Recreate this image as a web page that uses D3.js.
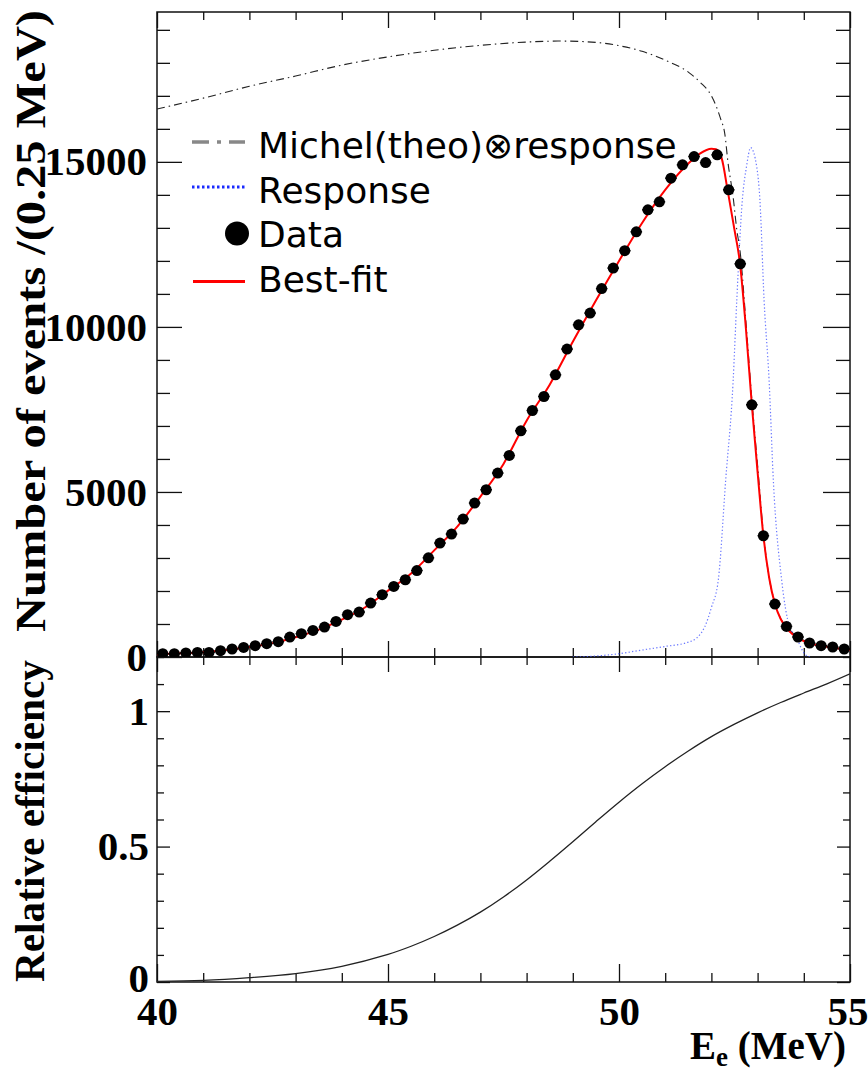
<!DOCTYPE html>
<html>
<head>
<meta charset="utf-8">
<script src="https://cdn.jsdelivr.net/npm/d3@7"></script>
<style>
  html, body { margin: 0; padding: 0; background: #fff; }
  svg { display: block; }
</style>
</head>
<body>
<svg id="chart" width="868" height="1072"></svg>
<script>
// ---------------- DATA ----------------
const binCenters = d3.range(60).map(i => 40.125 + 0.25 * i);
const dataCounts = [
  100, 100, 121, 140, 140, 190, 242, 290, 342, 403,
  463, 605, 706, 806, 908, 1078, 1281, 1362, 1635, 1887,
  2138, 2340, 2620, 3005, 3452, 3725, 4180, 4664, 5067, 5572,
  6105, 6853, 7468, 7892, 8549, 9328, 10064, 10418, 11160, 11781,
  12310, 12880, 13546, 13789, 14507, 14910, 15161, 14979, 15212, 14152,
  11911, 7641, 3673, 1605, 927, 606, 424, 342, 303, 242
];
const fitE = [40.0, 40.5, 41.0, 41.5, 42.0, 42.5, 43.0, 43.5, 44.0, 44.5, 45.0, 45.5, 46.0, 46.5, 47.0, 47.5,
  48.0, 48.5, 49.0, 49.5, 50.0, 50.5, 51.0, 51.5, 51.75, 52.0, 52.1, 52.22, 52.35, 52.5, 52.62, 52.75,
  52.875, 53.0, 53.125, 53.25, 53.375, 53.5, 53.625, 53.75, 53.875, 54.0, 54.25, 54.5, 54.75, 55.0];
const fitY = [85, 110, 145, 210, 300, 420, 600, 830, 1130, 1500, 2010, 2530, 3230, 3950, 4860, 5850,
  7160, 8250, 9550, 10800, 12000, 13150, 14150, 14950, 15250, 15400, 15380, 15120, 14152, 12940, 11911, 9900,
  7641, 5600, 3673, 2400, 1605, 1150, 880, 700, 580, 480, 370, 310, 260, 220];
const michelE = [40.0, 41.0, 42.0, 43.0, 44.0, 45.0, 46.0, 47.0, 48.0, 48.7, 49.5, 50.0, 50.5, 51.0, 51.5,
  51.75, 52.0, 52.1, 52.2, 52.29, 52.36, 52.47, 52.55, 52.62, 52.75, 52.875, 53.0, 53.125, 53.25, 53.375,
  53.5, 53.625, 53.75, 53.875, 54.0, 54.25, 54.5, 54.75, 55.0];
const michelY = [16600, 16930, 17290, 17600, 17930, 18180, 18380, 18530, 18630, 18660, 18620, 18520, 18350, 18080, 17720,
  17420, 17000, 16700, 16300, 15850, 14970, 13940, 12940, 12300, 10100, 7800, 5800, 3750, 2400, 1650,
  1160, 940, 740, 620, 510, 390, 325, 265, 225];
const respE = [49.0, 49.5, 50.0, 50.45, 51.0, 51.5, 51.68, 51.86, 52.0, 52.15, 52.31, 52.47, 52.55, 52.67, 52.76,
  52.85, 52.98, 53.05, 53.14, 53.25, 53.34, 53.52, 53.69, 53.85, 53.95, 54.05, 54.15];
const respY = [0, 30, 100, 200, 320, 450, 575, 927, 1500, 2341, 5370, 8350, 10820, 13849, 14860,
  15430, 14860, 13849, 10820, 8350, 5370, 2341, 927, 575, 250, 50, 0];
const effE = [40, 41, 42, 43, 44, 45, 45.5, 46, 46.5, 47, 47.5, 48, 48.5, 49, 49.5, 50, 50.5, 51, 51.5, 52, 52.5, 53, 53.5, 54, 54.5, 55];
const effY = [0.0025, 0.006, 0.016, 0.031, 0.058, 0.102, 0.132, 0.168, 0.210, 0.258, 0.314, 0.377, 0.446, 0.518, 0.592,
  0.664, 0.732, 0.795, 0.853, 0.906, 0.952, 0.994, 1.032, 1.067, 1.101, 1.138];
const topYTicks = [0, 5000, 10000, 15000];
const botYTicks = [0, 0.5, 1];
const xTicks = [40, 45, 50, 55];
const legendLabels = ["Michel(theo)\u2297response", "Response", "Data", "Best-fit"];

// ---------------- LAYOUT ----------------
const L = 157, R = 850, T = 12, MID = 657, B = 982;
const svg = d3.select("#chart");
svg.append("rect").attr("width", 868).attr("height", 1072).attr("fill", "#fff");

const x = d3.scaleLinear().domain([40, 55]).range([L, R]);
const yTop = d3.scaleLinear().domain([0, 19540]).range([MID, T]);
const yBot = d3.scaleLinear().domain([0, 1.2]).range([B, MID]);

const defs = svg.append("defs");
defs.append("clipPath").attr("id", "clipTop").append("rect")
  .attr("x", L).attr("y", T).attr("width", R - L).attr("height", MID - T);
defs.append("clipPath").attr("id", "clipBot").append("rect")
  .attr("x", L).attr("y", MID).attr("width", R - L).attr("height", B - MID);

const tickFont = "'Liberation Serif', 'Times New Roman', serif";

function styleAxis(g) {
  g.select(".domain").remove();
  g.selectAll(".tick line").attr("stroke", "#111").attr("stroke-width", 1.3);
  g.selectAll(".tick text").attr("fill", "#000")
    .attr("font-family", tickFont).attr("font-weight", "bold").attr("font-size", 41);
}

// Minor tick values
const xMinor = d3.range(40, 55.001, 1).filter(v => v % 5 !== 0);
const topYMinor = d3.range(0, 19541, 1000).filter(v => v % 5000 !== 0);
const botYMinor = d3.range(0, 1.2001, 0.1).map(v => Math.round(v * 10) / 10).filter(v => Math.abs(v * 2 - Math.round(v * 2)) > 1e-6);

// ---- Top panel axes ----
svg.append("g").attr("transform", `translate(${L},0)`)
  .call(d3.axisLeft(yTop).tickValues(topYTicks).tickSize(-25).tickPadding(10).tickFormat(d3.format("d")))
  .call(styleAxis);
svg.append("g").attr("transform", `translate(${L},0)`)
  .call(d3.axisLeft(yTop).tickValues(topYMinor).tickSize(-13).tickFormat(""))
  .call(styleAxis);
svg.append("g").attr("transform", `translate(${R},0)`)
  .call(d3.axisRight(yTop).tickValues(topYTicks.filter(v => v > 0)).tickSize(-27).tickFormat(""))
  .call(styleAxis);
svg.append("g").attr("transform", `translate(${R},0)`)
  .call(d3.axisRight(yTop).tickValues(topYMinor).tickSize(-14).tickFormat(""))
  .call(styleAxis);
svg.append("g").attr("transform", `translate(0,${T})`)
  .call(d3.axisTop(x).tickValues(xTicks).tickSize(-16).tickFormat(""))
  .call(styleAxis);
svg.append("g").attr("transform", `translate(0,${T})`)
  .call(d3.axisTop(x).tickValues(xMinor).tickSize(-8).tickFormat(""))
  .call(styleAxis);
svg.append("g").attr("transform", `translate(0,${MID})`)
  .call(d3.axisBottom(x).tickValues(xTicks).tickSize(-16).tickFormat(""))
  .call(styleAxis);
svg.append("g").attr("transform", `translate(0,${MID})`)
  .call(d3.axisBottom(x).tickValues(xMinor).tickSize(-9).tickFormat(""))
  .call(styleAxis);

// ---- Bottom panel axes ----
const botLeftG = svg.append("g").attr("transform", `translate(${L},0)`)
  .call(d3.axisLeft(yBot).tickValues(botYTicks).tickSize(-13).tickPadding(8).tickFormat(d => d3.format("")(d)))
  .call(styleAxis);
botLeftG.selectAll(".tick text").filter(d => d === 0).attr("dy", "0.24em");
svg.append("g").attr("transform", `translate(${L},0)`)
  .call(d3.axisLeft(yBot).tickValues(botYMinor).tickSize(-7).tickFormat(""))
  .call(styleAxis);
svg.append("g").attr("transform", `translate(${R},0)`)
  .call(d3.axisRight(yBot).tickValues(botYTicks).tickSize(-13).tickFormat(""))
  .call(styleAxis);
svg.append("g").attr("transform", `translate(${R},0)`)
  .call(d3.axisRight(yBot).tickValues(botYMinor).tickSize(-7).tickFormat(""))
  .call(styleAxis);
svg.append("g").attr("transform", `translate(0,${MID})`)
  .call(d3.axisTop(x).tickValues(xTicks).tickSize(-15).tickFormat(""))
  .call(styleAxis);
svg.append("g").attr("transform", `translate(0,${MID})`)
  .call(d3.axisTop(x).tickValues(xMinor).tickSize(-8).tickFormat(""))
  .call(styleAxis);
const xAxisG = svg.append("g").attr("transform", `translate(0,${B})`)
  .call(d3.axisBottom(x).tickValues(xTicks).tickSize(-18).tickPadding(14).tickFormat(d3.format("d")))
  .call(styleAxis);
// keep the last label inside the picture, as in the reference
xAxisG.selectAll(".tick text").filter(d => d === 55).attr("text-anchor", "end").attr("x", 18);
svg.append("g").attr("transform", `translate(0,${B})`)
  .call(d3.axisBottom(x).tickValues(xMinor).tickSize(-9).tickFormat(""))
  .call(styleAxis);

// Frames
svg.append("rect").attr("x", L).attr("y", T).attr("width", R - L).attr("height", MID - T)
  .attr("fill", "none").attr("stroke", "#111").attr("stroke-width", 1.5);
svg.append("rect").attr("x", L).attr("y", MID).attr("width", R - L).attr("height", B - MID)
  .attr("fill", "none").attr("stroke", "#111").attr("stroke-width", 1.5);

// ---- Top panel curves ----
const gTop = svg.append("g").attr("clip-path", "url(#clipTop)");
const lineTop = d3.line().x(d => x(d[0])).y(d => yTop(d[1])).curve(d3.curveMonotoneX);

gTop.append("path").datum(d3.zip(michelE, michelY))
  .attr("d", lineTop).attr("fill", "none").attr("stroke", "#222").attr("stroke-width", 1.1)
  .attr("stroke-dasharray", "8,4,1.5,4");

gTop.append("path").datum(d3.zip(respE, respY))
  .attr("d", lineTop).attr("fill", "none").attr("stroke", "#4455ff").attr("stroke-width", 1.2)
  .attr("stroke-dasharray", "1.3,2.2").attr("opacity", 0.8);

gTop.append("path").datum(d3.zip(fitE, fitY))
  .attr("d", lineTop).attr("fill", "none").attr("stroke", "#ff0000").attr("stroke-width", 2);

const pts = d3.zip(binCenters, dataCounts);
gTop.selectAll("line.err").data(pts).join("line").attr("class", "err")
  .attr("x1", d => x(d[0] - 0.125)).attr("x2", d => x(d[0] + 0.125))
  .attr("y1", d => yTop(d[1])).attr("y2", d => yTop(d[1]))
  .attr("stroke", "#000").attr("stroke-width", 1.5);
gTop.selectAll("circle.pt").data(pts).join("circle").attr("class", "pt")
  .attr("cx", d => x(d[0])).attr("cy", d => yTop(d[1])).attr("r", 5.5).attr("fill", "#000");

// ---- Bottom panel curve ----
const gBot = svg.append("g").attr("clip-path", "url(#clipBot)");
gBot.append("path").datum(d3.zip(effE, effY))
  .attr("d", d3.line().x(d => x(d[0])).y(d => yBot(d[1])).curve(d3.curveCatmullRom))
  .attr("fill", "none").attr("stroke", "#222").attr("stroke-width", 1.3);

// ---- Legend ----
const legFont = "'DejaVu Sans', Verdana, sans-serif";
const legBase = [158, 202.5, 247, 291.5];
svg.append("g").selectAll("text").data(legendLabels).join("text")
  .attr("x", 258).attr("y", (d, i) => legBase[i])
  .attr("font-family", legFont).attr("font-size", 36).attr("fill", "#000")
  .text(d => d);
svg.append("line").attr("x1", 192).attr("x2", 245).attr("y1", 142).attr("y2", 142)
  .attr("stroke", "#888").attr("stroke-width", 3.5).attr("stroke-dasharray", "17,8,4,8");
svg.append("line").attr("x1", 192).attr("x2", 245).attr("y1", 187).attr("y2", 187)
  .attr("stroke", "#1a2bff").attr("stroke-width", 3).attr("stroke-dasharray", "2.5,2.5");
svg.append("circle").attr("cx", 237).attr("cy", 233.5).attr("r", 12).attr("fill", "#000");
svg.append("line").attr("x1", 193).attr("x2", 245).attr("y1", 281.5).attr("y2", 281.5)
  .attr("stroke", "#ff0000").attr("stroke-width", 3);

// ---- Axis titles ----
svg.append("text")
  .attr("transform", "translate(45,321) rotate(-90)")
  .attr("text-anchor", "middle").attr("font-family", tickFont).attr("font-weight", "bold")
  .attr("font-size", 42).attr("textLength", 622).attr("lengthAdjust", "spacingAndGlyphs")
  .text("Number of events /(0.25 MeV)");
svg.append("text")
  .attr("transform", "translate(44,821) rotate(-90)")
  .attr("text-anchor", "middle").attr("font-family", tickFont).attr("font-weight", "bold")
  .attr("font-size", 42).attr("textLength", 322).attr("lengthAdjust", "spacingAndGlyphs")
  .text("Relative efficiency");
const xt = svg.append("text")
  .attr("x", 846).attr("y", 1059).attr("text-anchor", "end")
  .attr("font-family", tickFont).attr("font-weight", "bold").attr("font-size", 39);
xt.append("tspan").text("E");
xt.append("tspan").attr("font-size", 27).attr("dy", 7).text("e");
xt.append("tspan").attr("dy", -7).text(" (MeV)");
</script>
</body>
</html>
